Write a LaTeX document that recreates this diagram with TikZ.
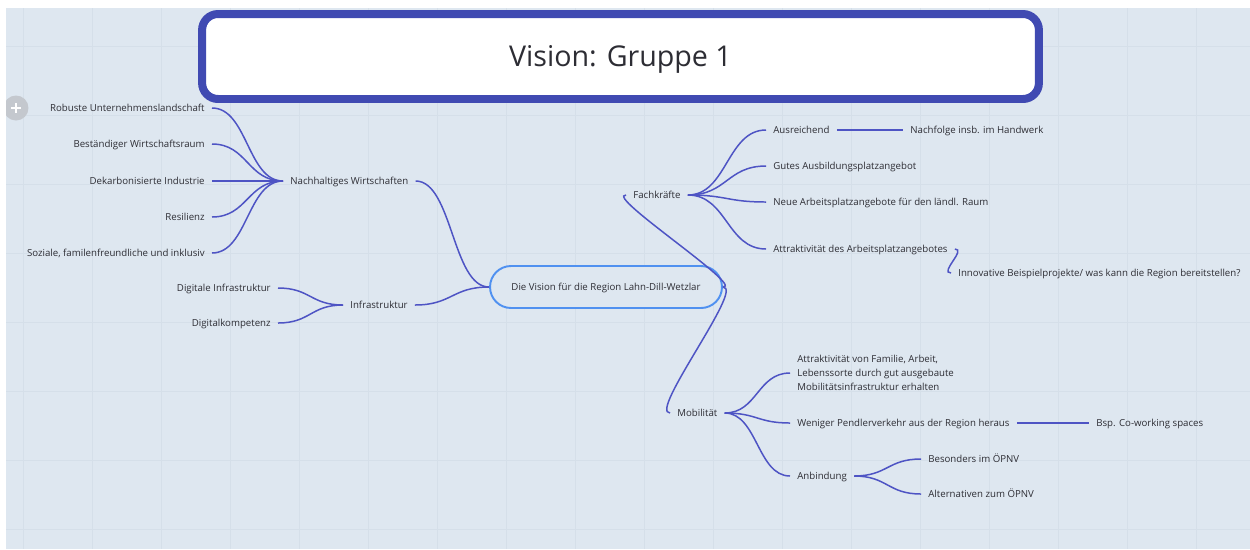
\documentclass[tikz,border=0pt]{standalone}
\usepackage{fontspec}
\setmainfont{Open Sans}
\usetikzlibrary{calc}

\definecolor{bgc}{RGB}{222,231,240}
\definecolor{gridc}{RGB}{213,223,233}
\definecolor{titlec}{RGB}{64,74,178}
\definecolor{linkc}{RGB}{78,84,196}
\definecolor{rootc}{RGB}{80,145,240}
\definecolor{txtc}{RGB}{45,45,52}
\definecolor{plusc}{RGB}{196,200,206}

\newcommand\mmfont{\fontsize{5.5pt}{8pt}\selectfont}
\newcommand\mmtitlefont{\fontsize{16.3pt}{20pt}\selectfont}

\begin{document}
\begin{tikzpicture}[x=0.02cm,y=-0.02cm,
  mmtext/.style={font=\mmfont, text=txtc, inner xsep=0.14cm, inner ysep=0pt,
                 text height=4pt, text depth=0pt},
  mmmulti/.style={font=\mmfont, text=txtc, inner xsep=0.14cm, inner ysep=0pt, align=left},
  leftleaf/.style={mmtext, anchor=east},
  rightleaf/.style={mmtext, anchor=west},
  link/.style={draw=linkc, line width=0.85pt},
  mm/.style={to path={.. controls ($(\tikztostart)!0.5!(\tikztotarget |- \tikztostart)$)
                          and ($(\tikztotarget)!0.5!(\tikztostart |- \tikztotarget)$)
                       .. (\tikztotarget) \tikztonodes}},
  titlebox/.style={draw=titlec, line width=4.55pt, fill=white, rounded corners=0.32cm,
                   minimum width=16.74cm, minimum height=1.7cm, inner sep=0pt,
                   font=\mmtitlefont, text=txtc, text height=11.6pt, text depth=0pt},
  rootbox/.style={draw=rootc, line width=1.1pt, fill=bgc, rounded corners=0.42cm,
                  minimum width=4.64cm, minimum height=0.84cm, inner sep=0pt,
                  font=\mmfont, text=txtc, text height=4pt, text depth=0pt}
]
\useasboundingbox (0,0) rectangle (1250,549);

% canvas with its faint grid
\fill[bgc] (0,0) rectangle (1250,549);
\foreach \gx in {0,...,17}
  \draw[gridc, line width=0.5pt] ({23+69*\gx},0) -- ({23+69*\gx},549);
\foreach \gy in {0,...,7}
  \draw[gridc, line width=0.5pt] (0,{46+69*\gy}) -- (1250,{46+69*\gy});

% add button at the left edge
\fill[plusc] (16,108) circle[radius=0.25cm];
\draw[white, line width=1.2pt] (11,108) -- (21,108) (16,103) -- (16,113);

% white frame strips
\fill[white] (0,0) rectangle (1250,8);
\fill[white] (0,0) rectangle (6,549);

% title
\node[titlebox] (title) at (620.5,56.5) {Vision: Gruppe 1};

% central topic
\node[rootbox] (root) at (606,287) {Die Vision für die Region Lahn-Dill-Wetzlar};

% left branches
\node[rightleaf] (nach) at (283,181) {Nachhaltiges Wirtschaften};
\node[leftleaf] (rob) at (212,108) {Robuste Unternehmenslandschaft};
\node[leftleaf] (best) at (212,144) {Beständiger Wirtschaftsraum};
\node[leftleaf] (dek) at (212,181) {Dekarbonisierte Industrie};
\node[leftleaf] (res) at (212,217) {Resilienz};
\node[leftleaf] (soz) at (212,253) {Soziale, familenfreundliche und inklusiv};

\node[rightleaf] (infra) at (343,305) {Infrastruktur};
\node[leftleaf] (diginf) at (278,288) {Digitale Infrastruktur};
\node[leftleaf] (digkomp) at (278,323) {Digitalkompetenz};

% right branches
\node[rightleaf] (fach) at (626,195) {Fachkräfte};
\node[rightleaf] (ausr) at (766,130) {Ausreichend};
\node[rightleaf] (nachf) at (903,130) {Nachfolge insb. im Handwerk};
\node[rightleaf] (ausb) at (766,166) {Gutes Ausbildungsplatzangebot};
\node[rightleaf] (neue) at (766,202) {Neue Arbeitsplatzangebote für den ländl. Raum};
\node[rightleaf] (attr) at (766,249) {Attraktivität des Arbeitsplatzangebotes};
\node[rightleaf] (innov) at (951,273) {Innovative Beispielprojekte/ was kann die Region bereitstellen?};

\node[rightleaf] (mob) at (670,413) {Mobilität};
\node[mmmulti, anchor=west] (famil) at (790,373)
  {Attraktivität von Familie, Arbeit,\\Lebenssorte durch gut ausgebaute\\Mobilitätsinfrastruktur erhalten};
\node[rightleaf] (pend) at (790,423) {Weniger Pendlerverkehr aus der Region heraus};
\node[rightleaf] (cowork) at (1089,423) {Bsp. Co-working spaces};
\node[rightleaf] (anb) at (790,476) {Anbindung};
\node[rightleaf] (oepnv) at (921,459) {Besonders im ÖPNV};
\node[rightleaf] (alt) at (921,494) {Alternativen zum ÖPNV};

% connectors
\foreach \leaf in {rob,best,dek,res,soz}
  \draw[link] (nach.west) to[mm] (\leaf.east);
\foreach \leaf in {diginf,digkomp}
  \draw[link] (infra.west) to[mm] (\leaf.east);
\draw[link] (nach.east) to[mm] (root.west);
\draw[link] (infra.east) to[mm] (root.west);

\draw[link] (root.east) .. controls +(22,0) and +(-22,0) .. (fach.west);
\draw[link] (root.east) .. controls +(22,0) and +(-22,0) .. (mob.west);

\foreach \leaf in {ausr,ausb,neue,attr}
  \draw[link] (fach.east) to[mm] (\leaf.west);
\draw[link] (ausr.east) -- (nachf.west);
\draw[link] (attr.east) .. controls +(12,0) and +(-12,0) .. (innov.west);

\foreach \leaf in {famil,pend,anb}
  \draw[link] (mob.east) to[mm] (\leaf.west);
\draw[link] (pend.east) -- (cowork.west);
\foreach \leaf in {oepnv,alt}
  \draw[link] (anb.east) to[mm] (\leaf.west);
\end{tikzpicture}
\end{document}
